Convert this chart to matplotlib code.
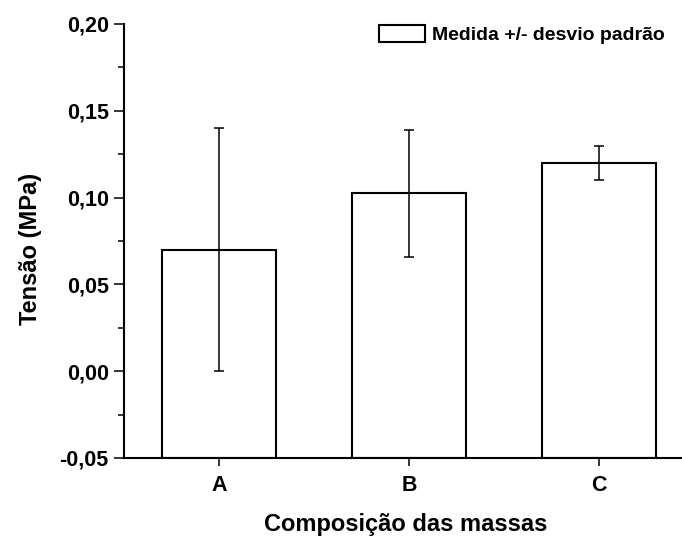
import matplotlib
matplotlib.use('Agg')
import matplotlib.pyplot as plt
from matplotlib.patches import Patch
from matplotlib.ticker import FuncFormatter, MultipleLocator

plt.rcParams['font.family'] = 'Liberation Sans'
plt.rcParams['font.weight'] = 'bold'

# data
categories = ['A', 'B', 'C']
tensao = [0.070, 0.1025, 0.120]
desvio = [0.070, 0.0365, 0.010]

fig = plt.figure(figsize=(6.82, 5.39), dpi=100)
ax = fig.add_axes([0.1818, 0.1503, 0.8358, 0.8052])

pos = [1, 2, 3]
ax.bar(pos, [t + 0.05 for t in tensao], bottom=-0.05, width=0.6,
       facecolor='white', edgecolor='black', linewidth=1.5)
ax.errorbar(pos, tensao, yerr=desvio, fmt='none', ecolor='black',
            elinewidth=1.1, capsize=3.6, capthick=1.1)

ax.set_xlim(0.5, 3.5)
ax.set_ylim(-0.05, 0.20)
ax.set_xticks(pos)
ax.set_xticklabels(categories)
ax.yaxis.set_major_locator(MultipleLocator(0.05))
ax.yaxis.set_minor_locator(MultipleLocator(0.025))
ax.yaxis.set_major_formatter(FuncFormatter(lambda v, p: ('%.2f' % v).replace('.', ',')))

for s in ['top', 'right']:
    ax.spines[s].set_visible(False)
for s in ['left', 'bottom']:
    ax.spines[s].set_linewidth(1.5)
ax.tick_params(axis='both', which='major', direction='out', length=7, width=1.1,
               labelsize=15.5)
ax.tick_params(axis='y', which='minor', direction='out', length=4.3, width=1.1)
ax.tick_params(axis='y', which='major', pad=4)
ax.tick_params(axis='x', which='major', length=6, pad=6)

ax.set_ylabel('Tensão (MPa)', fontsize=17, fontweight='bold')
ax.yaxis.set_label_coords(-0.143, 0.4816)
ax.set_xlabel('Composição das massas', fontsize=17, fontweight='bold')
ax.xaxis.set_label_coords(0.4947, -0.1265)

handle = Patch(facecolor='white', edgecolor='black', linewidth=1.5)
fig.legend([handle], ['Medida +/- desvio padrão'], loc='upper left',
           bbox_to_anchor=(379 / 682, 1 - 25 / 539), frameon=False,
           borderpad=0, borderaxespad=0,
           prop={'size': 14, 'weight': 'bold'}, handlelength=2.37, handleheight=0.93,
           handletextpad=0.36)

plt.savefig('out.png', dpi=100)
